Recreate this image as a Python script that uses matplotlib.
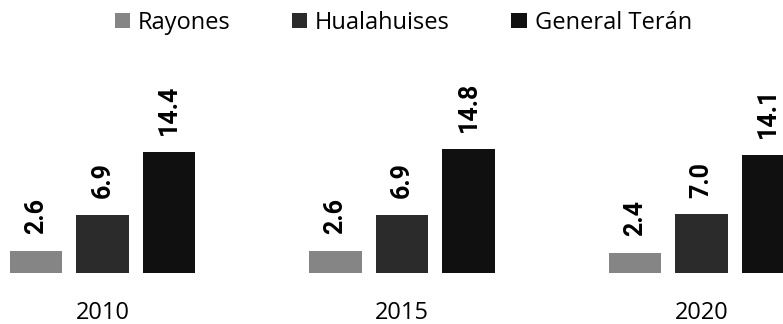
import numpy as np
import matplotlib.pyplot as plt

years = ['2010', '2015', '2020']
municipios = ['Rayones', 'Hualahuises', 'General Terán']
rayones = [2.6, 2.6, 2.4]
hualahuises = [6.9, 6.9, 7.0]
general_teran = [14.4, 14.8, 14.1]
colores = ['#858585', '#2b2b2b', '#101010']

plt.rcParams['font.family'] = ['Open Sans', 'DejaVu Sans']

fig = plt.figure(figsize=(7.83, 3.24), dpi=100)
ax = fig.add_axes([0, 51 / 324, 1, 273 / 324])

x = np.arange(len(years))
step = 0.222
width = 0.174
series = [rayones, hualahuises, general_teran]
for i, (vals, nombre, c) in enumerate(zip(series, municipios, colores)):
    pos = x + (i - 1) * step
    bars = ax.bar(pos, vals, width, color=c, label=nombre)
    for b, v in zip(bars, vals):
        ax.annotate(f'{v:.1f}', (b.get_x() + b.get_width() / 2, v),
                    xytext=(0, 12), textcoords='offset points',
                    rotation=90, ha='center', va='bottom',
                    fontsize=18, fontweight='bold', family='Roboto')

ax.set_xlim(-0.342, 2.272)
ax.set_ylim(0, 32.5)
ax.set_xticks(x, labels=years, fontsize=17)
ax.tick_params(axis='x', length=0, pad=20)
ax.set_yticks([])
for s in ax.spines.values():
    s.set_visible(False)

fig.legend(loc='center', bbox_to_anchor=(0.515, 0.93), ncol=3, frameon=False,
           fontsize=17, handlelength=0.64, handleheight=0.64,
           handletextpad=0.34, columnspacing=2.6)

fig.savefig('out.png', dpi=100)
